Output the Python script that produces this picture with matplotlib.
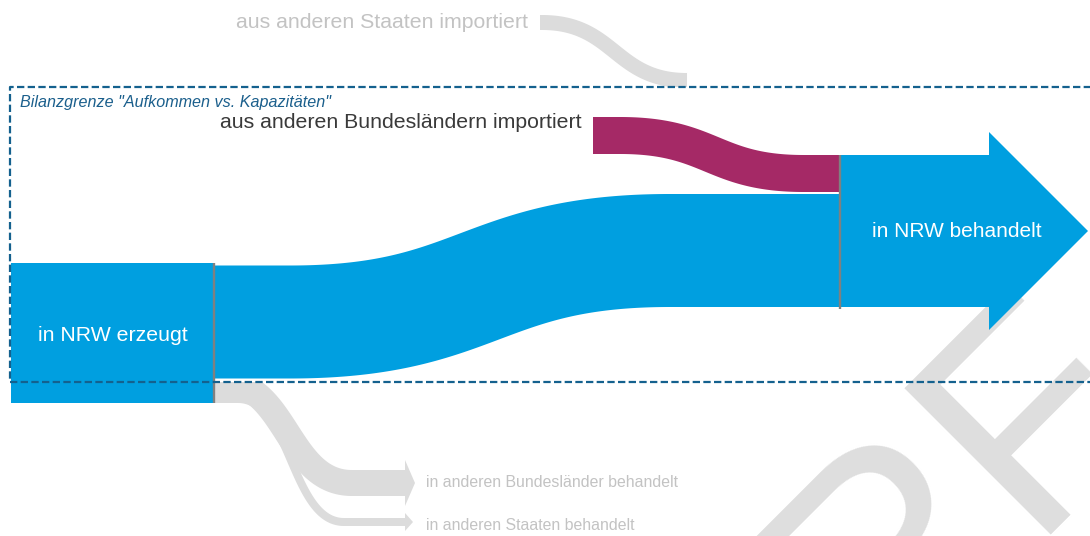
import numpy as np
import matplotlib
matplotlib.use("Agg")
import matplotlib.pyplot as plt
from matplotlib.patches import Polygon, Rectangle

plt.rcParams['font.family'] = ['Liberation Sans', 'DejaVu Sans']

# flows (pixel-thickness units)
flow_names = ["erzeugt->behandelt", "Bundeslaender->behandelt", "Staaten->import",
              "erzeugt->Bundeslaender", "erzeugt->Staaten"]
flow_values = [113, 37, 15, 26, 8]

# labels
lbl_erzeugt = "in NRW erzeugt"
lbl_behandelt = "in NRW behandelt"
lbl_imp_bl = "aus anderen Bundesländern importiert"
lbl_imp_st = "aus anderen Staaten importiert"
lbl_exp_bl = "in anderen Bundesländer behandelt"
lbl_exp_st = "in anderen Staaten behandelt"
lbl_grenze = 'Bilanzgrenze "Aufkommen vs. Kapazitäten"'
watermark = "ENTWURF"

BLUE = '#009fe0'
PURPLE = '#a52966'
LGRAY = '#dcdcdc'
TGRAY = '#c3c3c3'
DASH = '#14618e'

fig = plt.figure(figsize=(10.9, 5.36), dpi=100)
ax = fig.add_axes([0, 0, 1, 1])
ax.set_xlim(0, 1090)
ax.set_ylim(536, 0)
ax.axis('off')


def band(x0, x1, yc0, yc1, w, xa, xb, color, z):
    # sankey link drawn as a stroke of constant thickness
    t = np.linspace(0, 1, 200)
    xm = (xa + xb) / 2
    bx = (1 - t)**3 * xa + 3 * (1 - t)**2 * t * xm + 3 * (1 - t) * t**2 * xm + t**3 * xb
    by = (1 - t)**3 * yc0 + 3 * (1 - t)**2 * t * yc0 + 3 * (1 - t) * t**2 * yc1 + t**3 * yc1
    cx, cy = list(bx), list(by)
    if xa > x0:
        cx, cy = [x0] + cx, [yc0] + cy
    if xb < x1:
        cx, cy = cx + [x1], cy + [yc1]
    cx, cy = np.array(cx), np.array(cy)
    dx, dy = np.gradient(cx), np.gradient(cy)
    n = np.hypot(dx, dy)
    nx, ny = -dy / n, dx / n
    top = np.column_stack([cx - nx * w / 2, cy - ny * w / 2])
    bot = np.column_stack([cx + nx * w / 2, cy + ny * w / 2])
    ax.add_patch(Polygon(np.vstack([top, bot[::-1]]), closed=True, fc=color, ec='none', zorder=z))


def head(x, yc, w, ext, length, color, z):
    pts = [(x - 0.5, yc - w / 2), (x, yc - w / 2), (x, yc - w / 2 - ext), (x + length, yc),
           (x, yc + w / 2 + ext), (x, yc + w / 2), (x - 0.5, yc + w / 2)]
    ax.add_patch(Polygon(pts, closed=True, fc=color, ec='none', zorder=z))


v_main, v_imp_bl, v_imp_st, v_exp_bl, v_exp_st = flow_values

# gray flows (outside the balance boundary)
band(540, 687, 15 + v_imp_st / 2, 73 + v_imp_st / 2, v_imp_st, 542, 687, LGRAY, 1)
band(215, 405, 369 + v_exp_bl / 2, 470 + v_exp_bl / 2, v_exp_bl, 222, 352, LGRAY, 1)
band(215, 405, 395 + v_exp_st / 2, 518 + v_exp_st / 2, v_exp_st, 238, 344, LGRAY, 1)
head(405, 470 + v_exp_bl / 2, v_exp_bl, 10, 10, LGRAY, 1)
head(405, 518 + v_exp_st / 2, v_exp_st, 5, 8, LGRAY, 1)

# balance boundary (white inside)
bx0, by0, by1 = 10, 87, 381.5
ax.add_patch(Rectangle((bx0, by0), 1100, by1 - by0, fc='white', ec='none', zorder=2))
ax.plot([1100, bx0, bx0, 1100], [by0, by0, by1, by1], color=DASH, lw=1.6,
        linestyle=(0, (3.3, 1.5)), zorder=6, solid_capstyle='butt')

# watermark
ax.text(1157, 404, watermark, fontsize=216, color='#dedede', rotation=45,
        rotation_mode='anchor', ha='right', va='baseline', zorder=3)

# blue / purple flows
band(215, 840, 265.5 + v_main / 2, 194 + v_main / 2, v_main, 290, 670, BLUE, 4)
band(593, 840, 117 + v_imp_bl / 2, 155 + v_imp_bl / 2, v_imp_bl, 620, 804, PURPLE, 4)

# nodes
ax.add_patch(Rectangle((11, 263), 203, 140, fc=BLUE, ec='none', zorder=4))
ax.plot([214, 214], [263, 403], color='#808080', lw=1.7, zorder=5, solid_capstyle='butt')
node_top = 155
node_h = v_main + v_imp_bl + 2
arrow = [(840, node_top), (989, node_top), (989, 132), (1088, node_top + node_h / 2),
         (989, 330), (989, node_top + node_h), (840, node_top + node_h)]
ax.add_patch(Polygon(arrow, closed=True, fc=BLUE, ec='none', zorder=4))
ax.plot([839.5, 839.5], [node_top, node_top + node_h + 2], color='#808080', lw=1.7,
        zorder=5, solid_capstyle='butt')

# texts
ax.text(113, 341, lbl_erzeugt, fontsize=15.3, color='white', ha='center', va='baseline', zorder=7)
ax.text(957, 237, lbl_behandelt, fontsize=15, color='white', ha='center', va='baseline', zorder=7)
ax.text(582, 128.5, lbl_imp_bl, fontsize=15.3, color='#3a3a3a', ha='right', va='baseline', zorder=7)
ax.text(528, 28.5, lbl_imp_st, fontsize=15.3, color=TGRAY, ha='right', va='baseline', zorder=7)
ax.text(426, 487, lbl_exp_bl, fontsize=11.4, color=TGRAY, ha='left', va='baseline', zorder=7)
ax.text(426, 529.5, lbl_exp_st, fontsize=11.4, color=TGRAY, ha='left', va='baseline', zorder=7)
ax.text(20, 107, lbl_grenze, fontsize=11.6, color='#1b5f8c', style='italic',
        ha='left', va='baseline', zorder=7)

fig.savefig('out.png', dpi=100)
